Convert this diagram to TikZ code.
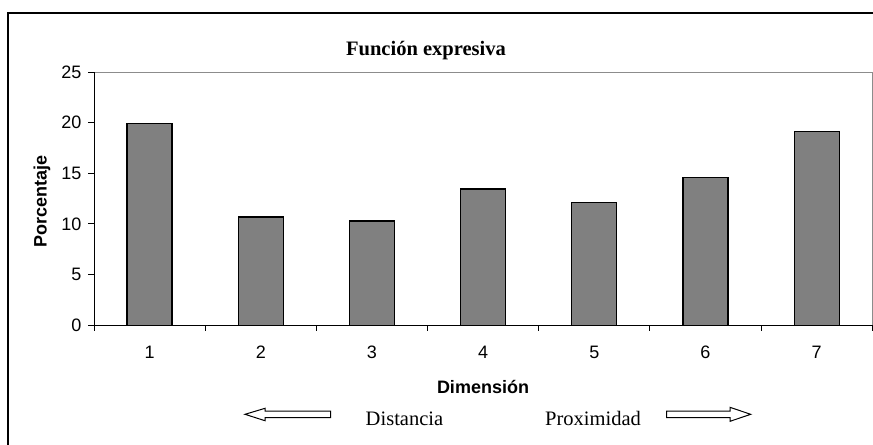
\documentclass[tikz,border=0pt]{standalone}
\usepackage{fontspec}
\setmainfont{Liberation Serif}
\newfontfamily\arialfont{Liberation Sans}

\tikzset{every picture/.style={line width=0.75pt}}
\tikzset{
  bar/.style={draw={rgb, 255:red, 0; green, 0; blue, 0 }, fill={rgb, 255:red, 128; green, 128; blue, 128 }, line width=0.9},
  ticklabel/.style={inner sep=0pt, font=\arialfont\fontsize{13.5}{15}\selectfont},
  axislabel/.style={inner sep=0pt, font=\arialfont\bfseries\fontsize{13.5}{15}\selectfont},
  serifnote/.style={inner sep=0pt, font=\fontsize{15.4}{18}\selectfont},
  blockarrow/.style={draw, fill=white, line width=0.75}
}

\begin{document}
\begin{tikzpicture}[x=0.75pt,y=0.75pt,yscale=-1,xscale=1]
    \useasboundingbox (0,0) rectangle (873,444);

    %Shape: Outer frame
    \draw [line width=1.5]  (8,460) -- (8,13) -- (890,13) ;
    %Shape: Plot area
    \draw [color={rgb, 255:red, 140; green, 140; blue, 140 }  ]  (94,72) -- (872.3,72) -- (872.3,325.3) ;

    %Bars
    \foreach \i/\v in {1/19.9, 2/10.7, 3/10.3, 4/13.45, 5/12.15, 6/14.6, 7/19.15} {
        \draw [bar] ({94+111.18*(\i-0.5)-22.5},325.3) rectangle ({94+111.18*(\i-0.5)+22.5},{325.3-10.13*\v}) ;
        \draw ({94+111.18*(\i-0.5)},358) node [ticklabel, anchor=base] (xl\i) {\i};
    }

    %Straight Lines: axes
    \draw    (94,72) -- (94,325.3) -- (872.3,325.3) ;
    \foreach \k in {0,...,5} {
        \draw    (88,{325.3-50.66*\k}) -- (94,{325.3-50.66*\k}) ;
        \draw (82,{325.3-50.66*\k}) node [ticklabel, anchor=east] (yl\k) {\pgfmathparse{int(5*\k)}\pgfmathresult};
    }
    \foreach \k in {0,...,7} {
        \draw    ({94+111.18*\k},325.3) -- ({94+111.18*\k},331) ;
    }

    % Text Node
    \draw (426,55) node [inner sep=0pt, anchor=base, font=\bfseries\fontsize{15.4}{18}\selectfont] (title) {Función expresiva};
    % Text Node
    \draw (46.5,201) node [axislabel, anchor=base, rotate=90] (ylabel) {Porcentaje};
    % Text Node
    \draw (483,393) node [axislabel, anchor=base] (xlabel) {Dimensión};
    % Text Node
    \draw (404.5,425) node [serifnote, anchor=base] (dist) {Distancia};
    % Text Node
    \draw (593,425) node [serifnote, anchor=base] (prox) {Proximidad};

    %Shape: Left block arrow
    \draw [blockarrow]  (245,414.3) -- (265,408.3) -- (265,411) -- (330.7,411) -- (330.7,417.7) -- (265,417.7) -- (265,420.7) -- cycle ;
    %Shape: Right block arrow
    \draw [blockarrow]  (750.7,414.3) -- (730,407.3) -- (730,411) -- (666.7,411) -- (666.7,417.7) -- (730,417.7) -- (730,421.3) -- cycle ;
\end{tikzpicture}
\end{document}
